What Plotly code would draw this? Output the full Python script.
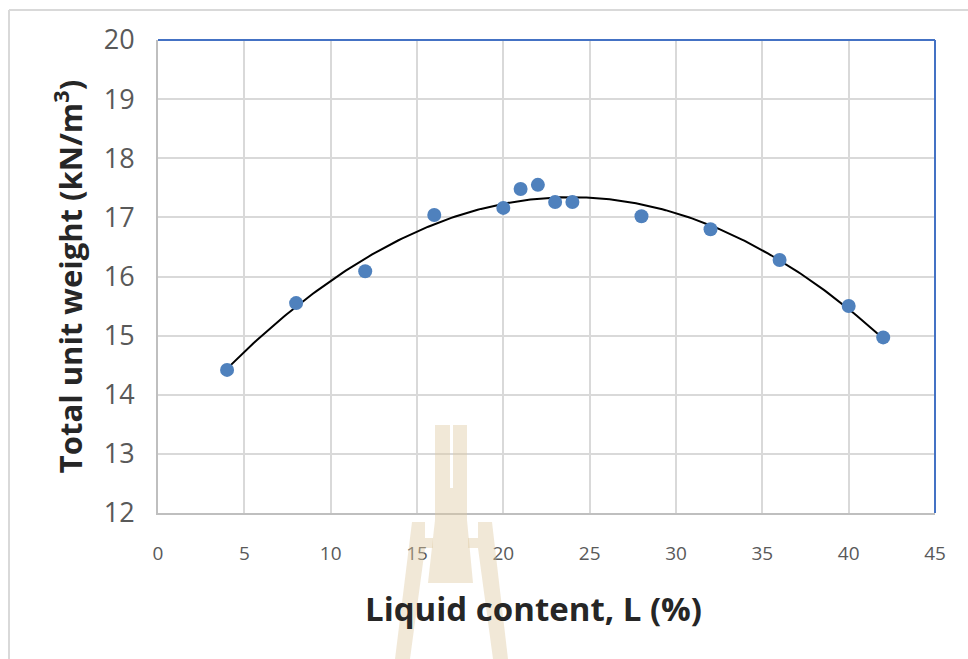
import numpy as np
import plotly.graph_objects as go

# ---- data ----
liquid_content = [4, 8, 12, 16, 20, 21, 22, 23, 24, 28, 32, 36, 40, 42]
unit_weight = [14.42, 15.55, 16.09, 17.04, 17.16, 17.48, 17.55, 17.26, 17.26,
               17.02, 16.80, 16.28, 15.50, 14.97]
x_ticks = [0, 5, 10, 15, 20, 25, 30, 35, 40, 45]
y_ticks = [12, 13, 14, 15, 16, 17, 18, 19, 20]

# polynomial (order 2) trendline, as Excel does
coef = np.polyfit(liquid_content, unit_weight, 2)
xt = np.linspace(min(liquid_content), max(liquid_content), 200)
yt = np.polyval(coef, xt)

W, H = 968, 659
L, R, T, B = 158, 935, 40, 513


def px(x):
    return (x - L) / (R - L)


def py(y):
    return (B - y) / (B - T)


fig = go.Figure()
fig.add_trace(go.Scatter(x=xt, y=yt, mode="lines",
                         line=dict(color="black", width=2), hoverinfo="skip",
                         showlegend=False))
fig.add_trace(go.Scatter(x=liquid_content, y=unit_weight, mode="markers",
                         marker=dict(color="#4f81bd", size=14), showlegend=False))

shapes = []
# outer chart frame (left and top visible)
shapes.append(dict(type="line", xref="paper", yref="paper", x0=px(9), x1=px(968),
                   y0=py(10), y1=py(10), line=dict(color="#d9d9d9", width=2)))
shapes.append(dict(type="line", xref="paper", yref="paper", x0=px(9), x1=px(9),
                   y0=py(10), y1=py(659), line=dict(color="#d9d9d9", width=2)))
# blue top and right border of the plot area
shapes.append(dict(type="line", xref="paper", yref="paper", x0=0, x1=1, y0=1, y1=1,
                   line=dict(color="#4472c4", width=2)))
shapes.append(dict(type="line", xref="paper", yref="paper", x0=1, x1=1, y0=0, y1=1,
                   line=dict(color="#4472c4", width=2)))


# watermark (decorative logo)
def poly(pts):
    return "M " + " L ".join(f"{px(a):.5f},{py(b):.5f}" for a, b in pts) + " Z"


wm = "rgba(222,200,160,0.42)"
polys = [
    [(435, 425), (450, 425), (450, 488), (453, 488), (453, 425), (467, 425),
     (467, 520), (473, 583), (428, 583), (435, 520)],
    [(412, 522), (425, 522), (425, 538), (433, 538), (433, 548), (425, 548),
     (410, 659), (395, 659)],
    [(478, 522), (492, 522), (508, 659), (493, 659), (478, 548), (468, 548),
     (468, 538), (478, 538)],
]
for p in polys:
    shapes.append(dict(type="path", xref="paper", yref="paper", path=poly(p),
                       fillcolor=wm, line=dict(width=0), layer="above"))

annotations = [
    dict(text="<b>Liquid content, L (%)</b>", xref="paper", yref="paper",
         x=px(533), y=py(608), xanchor="center", yanchor="middle",
         showarrow=False, font=dict(size=33, color="#262626", family="Open Sans")),
]

fig.update_layout(
    width=W, height=H,
    margin=dict(l=L, r=W - R, t=T, b=H - B),
    paper_bgcolor="white", plot_bgcolor="white",
    shapes=shapes,
    annotations=annotations,
    font=dict(family="Open Sans", color="#595959"),
    xaxis=dict(range=[0, 45], tickvals=x_ticks, showgrid=True,
               gridcolor="#d9d9d9", gridwidth=2, zeroline=False,
               showline=True, linecolor="#bfbfbf", linewidth=2,
               ticks="", tickfont=dict(size=19, color="#595959"),
               ticklabelstandoff=22),
    yaxis=dict(range=[12, 20], tickvals=y_ticks, showgrid=True,
               gridcolor="#d9d9d9", gridwidth=2, zeroline=False,
               showline=True, linecolor="#bfbfbf", linewidth=2,
               ticks="", tickfont=dict(size=27, color="#595959"),
               ticklabelstandoff=16,
               title=dict(text="<b>Total unit weight (kN/m<sup>3</sup>)</b>",
                          font=dict(size=31, color="#262626"), standoff=12)),
)

fig.write_html("out.html")
